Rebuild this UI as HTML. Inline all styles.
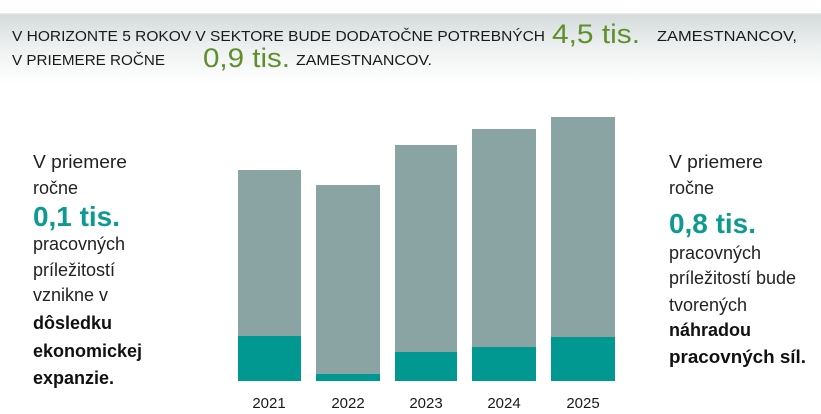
<!DOCTYPE html>
<html><head><meta charset="utf-8"><style>
html,body{margin:0;padding:0;background:#fff}
svg{display:block}
text{font-family:"Liberation Sans",sans-serif}
</style></head><body>
<svg width="821" height="414" viewBox="0 0 821 414" xmlns="http://www.w3.org/2000/svg">
<defs><linearGradient id="g" x1="0" y1="0" x2="0" y2="1">
<stop offset="0" stop-color="#d3d9d9"/><stop offset="0.5" stop-color="#eef1f1"/><stop offset="1" stop-color="#ffffff"/></linearGradient></defs>
<rect x="0" y="13" width="821" height="70" fill="url(#g)"/>
<rect x="0" y="13" width="821" height="1.5" fill="#e4e8e8"/>
<g font-size="15" fill="#1a1a1a">
<text x="12" y="41" textLength="533" lengthAdjust="spacingAndGlyphs">V HORIZONTE 5 ROKOV V SEKTORE BUDE DODATOČNE POTREBNÝCH</text>
<text x="657" y="41" textLength="140" lengthAdjust="spacingAndGlyphs">ZAMESTNANCOV,</text>
<text x="12" y="65" textLength="153" lengthAdjust="spacingAndGlyphs">V PRIEMERE ROČNE</text>
<text x="296" y="65" textLength="136" lengthAdjust="spacingAndGlyphs">ZAMESTNANCOV.</text>
</g>
<g font-size="27" fill="#5e8f2c">
<text x="552" y="43" textLength="88" lengthAdjust="spacingAndGlyphs">4,5 tis.</text>
<text x="203" y="67" textLength="87" lengthAdjust="spacingAndGlyphs">0,9 tis.</text>
</g>
<g fill="#8aa4a3">
<rect x="238" y="170" width="63" height="211"/>
<rect x="316" y="185" width="64" height="196"/>
<rect x="395" y="145" width="62" height="236"/>
<rect x="472" y="129" width="64" height="252"/>
<rect x="551" y="117" width="64" height="264"/>
</g>
<g fill="#009890">
<rect x="238" y="336" width="63" height="45"/>
<rect x="316" y="374" width="64" height="7"/>
<rect x="395" y="352" width="62" height="29"/>
<rect x="472" y="347" width="64" height="34"/>
<rect x="551" y="337" width="64" height="44"/>
</g>
<g font-size="15" fill="#1a1a1a" text-anchor="middle">
<text x="269" y="408">2021</text><text x="348" y="408">2022</text><text x="426" y="408">2023</text><text x="504" y="408">2024</text><text x="583" y="408">2025</text>
</g>
<g font-size="18" fill="#222">
<text x="33" y="168" textLength="94" lengthAdjust="spacingAndGlyphs">V priemere</text>
<text x="33" y="194">ročne</text>
<text x="33" y="250">pracovných</text>
<text x="33" y="276">príležitostí</text>
<text x="33" y="301">vznikne v</text>
<g font-weight="bold" fill="#111"><text x="33" y="329">dôsledku</text><text x="33" y="357">ekonomickej</text><text x="33" y="384">expanzie.</text></g>
<text x="669" y="168" textLength="94" lengthAdjust="spacingAndGlyphs">V priemere</text>
<text x="669" y="194">ročne</text>
<text x="669" y="259">pracovných</text>
<text x="669" y="284">príležitostí bude</text>
<text x="669" y="311">tvorených</text>
<g font-weight="bold" fill="#111"><text x="669" y="336">náhradou</text><text x="669" y="363" textLength="137" lengthAdjust="spacingAndGlyphs">pracovných síl.</text></g>
</g>
<g font-size="28" font-weight="bold" fill="#0e9a90">
<text x="33" y="226" textLength="87" lengthAdjust="spacingAndGlyphs">0,1 tis.</text>
<text x="669" y="233" textLength="87" lengthAdjust="spacingAndGlyphs">0,8 tis.</text>
</g>
</svg>
</body></html>
